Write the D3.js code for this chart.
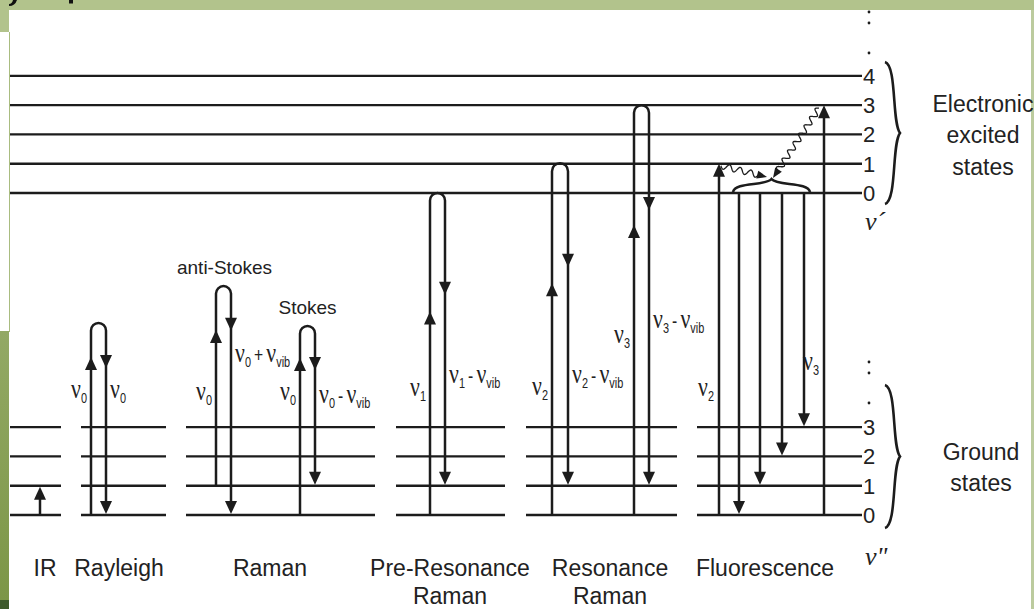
<!DOCTYPE html>
<html>
<head>
<meta charset="utf-8">
<script src="https://cdn.jsdelivr.net/npm/d3@7"></script>
<style>
  body { margin: 0; background: #fff; }
  text { font-family: "Liberation Sans", Arial, sans-serif; fill: #222; }
</style>
</head>
<body>
<svg id="chart" width="1034" height="609"></svg>
<script>
// ---- data ----
// vibrational quantum numbers of the two electronic states
var excitedLevels = [0, 1, 2, 3, 4];
var groundLevels = [0, 1, 2, 3];
var excitedOffset = 11;   // v'=0 lies 11 vibrational quanta above v''=0

var columnNames = ["IR", "Rayleigh", "Raman", "Pre-Resonance|Raman", "Resonance|Raman", "Fluorescence"];

// scattering loops (energies in ground-state quanta)
var loopFrom   = [0, 1, 0, 0, 0, 0];
var loopTop    = [6.56, 7.82, 6.46, 11.0, 12.02, 14.0];
var loopTo     = [0, 0, 1, 1, 1, 1];
var loopUpMark = [5.40, 6.32, 5.36, 6.95, 7.92, 9.91];
var loopDnMark = [5.02, 6.29, 4.95, 7.52, 8.48, 10.42];
var loopUpText = ["ν_{0}", "ν_{0}", "ν_{0}", "ν_{1}", "ν_{2}", "ν_{3}"];
var loopDnText = ["ν_{0}", "ν_{0} + ν_{vib}", "ν_{0} - ν_{vib}", "ν_{1} - ν_{vib}", "ν_{2} - ν_{vib}", "ν_{3} - ν_{vib}"];
var loopUpTextE = [4.0, 3.93, 3.93, 4.07, 4.1, 5.88];
var loopDnTextE = [4.0, 5.23, 3.83, 4.5, 4.5, 6.39];
var loopNotes = ["", "anti-Stokes", "Stokes", "", "", ""];

// straight absorptions / emissions
var irFrom = 0, irTo = 1;
var fluoUpFrom = [0, 0], fluoUpTo = [12, 14], fluoUpText = ["ν_{2}", "ν_{3}"], fluoUpTextE = [4.07, 4.95];
var fluoDownFrom = 11, fluoDownTo = [0, 1, 2, 3];

// ---- layout ----
var W = 1034, H = 609;
var levelX0 = 10, levelX1 = 862;
var groundSegs = [[10, 61], [81, 166], [186, 375], [396, 505], [526, 677], [697, 862]];
var columnCenters = [45, 119, 270, 450, 610, 765];
var loopUpX = [91, 216, 300, 430, 552, 634];
var loopDnX = [106, 231, 315, 445, 568, 649];
var irX = 40;
var fluoUpX = [719, 824];
var fluoDownX = [739, 760, 782, 804];
var ink = "#1c1c1c";
var green = "#b2c38c";

var svg = d3.select("#chart");

var y = d3.scaleLinear().domain([0, excitedOffset]).range([515, 193]);

// ---- page frame ----
svg.append("rect").attr("width", W).attr("height", H).attr("fill", "#fff");
svg.append("rect").attr("x", 0).attr("y", 0).attr("width", W).attr("height", 10).attr("fill", green);
svg.append("rect").attr("x", 0).attr("y", 10).attr("width", 9).attr("height", 22).attr("fill", green);
svg.append("rect").attr("x", 9).attr("y", 32).attr("width", 1).attr("height", 300).attr("fill", "#a9bc80");
var grad = svg.append("defs").append("linearGradient").attr("id", "strip")
    .attr("x1", 0).attr("y1", 0).attr("x2", 0).attr("y2", 1);
grad.append("stop").attr("offset", "0%").attr("stop-color", "#93a965");
grad.append("stop").attr("offset", "100%").attr("stop-color", "#7c9647");
svg.append("rect").attr("x", 0).attr("y", 331).attr("width", 9).attr("height", 269).attr("fill", "url(#strip)");
svg.append("rect").attr("x", 0).attr("y", 600).attr("width", 9).attr("height", 9).attr("fill", "#3e5a2b");
svg.append("rect").attr("x", 1031).attr("y", 10).attr("width", 3).attr("height", H - 10).attr("fill", "#bccb9e");
// bits of the slide heading that hang into view
svg.append("path").attr("d", "M9,4 Q12,4 13,0 L17,0 Q15,6 9,6 Z").attr("fill", "#111");
svg.append("rect").attr("x", 69).attr("y", 0).attr("width", 4).attr("height", 3.5).attr("fill", "#111");

// ---- helpers ----
function nuText(g, str, x, yy, anchor) {
  var t = g.append("g").attr("transform", "translate(" + x + "," + yy + ") scale(0.78,1)")
    .append("text").attr("x", 0).attr("y", 0).attr("text-anchor", anchor);
  var tokens = str.match(/ν_\{[^}]*\}|[^ν]+/g);
  var shift = 0;
  tokens.forEach(function(tok) {
    if (tok.indexOf("ν_") === 0) {
      t.append("tspan").attr("dy", -shift).style("font-family", "'Liberation Serif', serif")
        .style("font-size", "28px").text("ν");
      t.append("tspan").attr("dy", 5).style("font-size", "14px").text(tok.slice(3, -1));
      shift = 5;
    } else {
      t.append("tspan").attr("dy", -shift).style("font-size", "20px").text(tok.replace(/ /g, "\u2009"));
      shift = 0;
    }
  });
  return t;
}

function head(g, x, tip, dir, w, h) {
  w = w || 12; h = h || 13;
  // dir = -1 points up, +1 points down
  g.append("path")
    .attr("d", "M" + x + "," + tip + "L" + (x - w / 2) + "," + (tip - dir * h) + "L" + (x + w / 2) + "," + (tip - dir * h) + "Z")
    .attr("fill", ink);
}

function brace(g, p0, p1, w) {
  // curly brace from p0 to p1 bulging along the normal of p0->p1
  var dx = p1[0] - p0[0], dy = p1[1] - p0[1];
  var L = Math.sqrt(dx * dx + dy * dy), ux = dx / L, uy = dy / L;
  var nx = -uy, ny = ux;
  function P(u, v) { return (p0[0] + ux * u + nx * v) + "," + (p0[1] + uy * u + ny * v); }
  var h = L / 2;
  var d = "M" + P(0, 0) +
    "C" + P(h * 0.05, w * 0.8) + " " + P(h * 0.85, w * 0.45) + " " + P(h, w) +
    "C" + P(h * 1.15, w * 0.45) + " " + P(L - h * 0.05, w * 0.8) + " " + P(L, 0);
  g.append("path").attr("d", d).attr("fill", "none").attr("stroke", ink).attr("stroke-width", 2.6);
}

function wavy(g, p0, p1, amp, wl) {
  var dx = p1[0] - p0[0], dy = p1[1] - p0[1];
  var L = Math.sqrt(dx * dx + dy * dy), ux = dx / L, uy = dy / L;
  var nx = -uy, ny = ux, pts = [];
  var stop = L - 7;
  for (var s = 0; s <= stop; s += 0.5) {
    var v = amp * Math.sin(2 * Math.PI * s / wl);
    pts.push([p0[0] + ux * s + nx * v, p0[1] + uy * s + ny * v]);
  }
  g.append("path").attr("d", d3.line()(pts)).attr("fill", "none").attr("stroke", ink).attr("stroke-width", 1.3);
  var bx = p1[0] - ux * 10, by = p1[1] - uy * 10;
  g.append("path").attr("fill", ink)
    .attr("d", "M" + p1[0] + "," + p1[1] + "L" + (bx + nx * 4) + "," + (by + ny * 4) + "L" + (bx - nx * 4) + "," + (by - ny * 4) + "Z");
}

// ---- energy levels ----
var levels = svg.append("g");
levels.selectAll("line.ex").data(excitedLevels).enter().append("line")
  .attr("x1", levelX0).attr("x2", levelX1)
  .attr("y1", function(d) { return y(excitedOffset + d); })
  .attr("y2", function(d) { return y(excitedOffset + d); })
  .attr("stroke", ink).attr("stroke-width", 2.3);

groundSegs.forEach(function(seg) {
  levels.selectAll(null).data(groundLevels).enter().append("line")
    .attr("x1", seg[0]).attr("x2", seg[1])
    .attr("y1", function(d) { return y(d); })
    .attr("y2", function(d) { return y(d); })
    .attr("stroke", ink).attr("stroke-width", 2.3);
});

levels.selectAll("text.ex").data(excitedLevels).enter().append("text")
  .attr("x", levelX1 + 1).attr("y", function(d) { return y(excitedOffset + d) + 8; })
  .style("font-size", "22px").text(function(d) { return d; });
levels.selectAll("text.gr").data(groundLevels).enter().append("text")
  .attr("x", levelX1 + 1).attr("y", function(d) { return y(d) + 8; })
  .style("font-size", "22px").text(function(d) { return d; });

// continuation dots
[12, 23, 53, 362, 373, 403].forEach(function(dy) {
  levels.append("circle").attr("cx", 869).attr("cy", dy).attr("r", 1.4).attr("fill", ink);
});

// ---- IR ----
var marks = svg.append("g");
marks.append("line").attr("x1", irX).attr("x2", irX).attr("y1", y(irFrom)).attr("y2", y(irTo) + 6)
  .attr("stroke", ink).attr("stroke-width", 2.5);
head(marks, irX, y(irTo) + 1, -1);

// ---- scattering loops ----
loopFrom.forEach(function(f, i) {
  var xu = loopUpX[i], xd = loopDnX[i], r = (xd - xu) / 2;
  var yt = y(loopTop[i]);
  var d = "M" + xu + "," + y(f) + "L" + xu + "," + (yt + r) +
          "A" + r + "," + r + " 0 0 1 " + xd + "," + (yt + r) +
          "L" + xd + "," + (y(loopTo[i]) - 6);
  marks.append("path").attr("d", d).attr("fill", "none").attr("stroke", ink).attr("stroke-width", 2.5);
  head(marks, xu, y(loopUpMark[i]), -1);
  head(marks, xd, y(loopDnMark[i]), 1);
  head(marks, xd, y(loopTo[i]) - 1, 1);
  nuText(marks, loopUpText[i], xu - 4, y(loopUpTextE[i]), "end");
  nuText(marks, loopDnText[i], xd + 4, y(loopDnTextE[i]), "start");
  if (loopNotes[i]) {
    marks.append("text").attr("x", (xu + xd) / 2 + (i === 1 ? 1 : 0)).attr("y", yt - 12)
      .attr("text-anchor", "middle").style("font-size", "19px").text(loopNotes[i]);
  }
});

// ---- fluorescence ----
fluoUpX.forEach(function(x, i) {
  marks.append("line").attr("x1", x).attr("x2", x).attr("y1", y(fluoUpFrom[i])).attr("y2", y(fluoUpTo[i]) + 6)
    .attr("stroke", ink).attr("stroke-width", 2.5);
  head(marks, x, y(fluoUpTo[i]), -1);
  nuText(marks, fluoUpText[i], x - 5, y(fluoUpTextE[i]), "end");
});
fluoDownX.forEach(function(x, i) {
  marks.append("line").attr("x1", x).attr("x2", x).attr("y1", y(fluoDownFrom)).attr("y2", y(fluoDownTo[i]) - 6)
    .attr("stroke", ink).attr("stroke-width", 2.5);
  head(marks, x, y(fluoDownTo[i]) - 1, 1);
});
brace(marks, [733, 192], [810, 192], -13);
wavy(marks, [721, y(12) + 2], [767, 177], 3, 11);
wavy(marks, [819, y(14) + 3], [773, 178], 3, 10);

// ---- state braces and names ----
brace(marks, [885, 62], [885, 204], -15);
brace(marks, [885, 385], [885, 528], -15);

var nm = svg.append("g").attr("text-anchor", "middle").style("font-size", "23px");
[["Electronic", 112], ["excited", 143], ["states", 175]].forEach(function(d) {
  nm.append("text").attr("x", 983).attr("y", d[1]).text(d[0]);
});
[["Ground", 460], ["states", 491]].forEach(function(d) {
  nm.append("text").attr("x", 981).attr("y", d[1]).text(d[0]);
});
svg.append("text").attr("x", 865).attr("y", 230).style("font-family", "'Liberation Serif', serif")
  .style("font-size", "26px").style("font-style", "italic").text("ν\u00b4");
svg.append("text").attr("x", 865).attr("y", 565).style("font-family", "'Liberation Serif', serif")
  .style("font-size", "26px").style("font-style", "italic").text("ν\"");

// ---- column names ----
var cn = svg.append("g").attr("text-anchor", "middle").style("font-size", "23px");
columnNames.forEach(function(name, i) {
  name.split("|").forEach(function(part, j) {
    cn.append("text").attr("x", columnCenters[i]).attr("y", 576 + j * 28).text(part);
  });
});
</script>
</body>
</html>
